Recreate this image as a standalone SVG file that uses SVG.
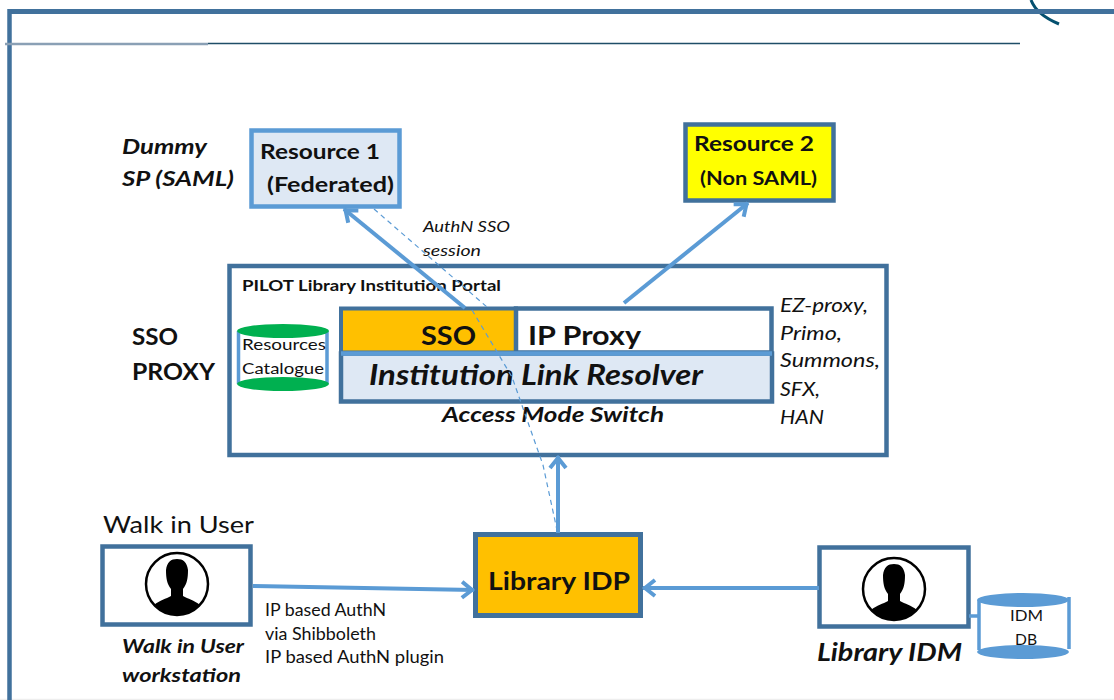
<svg xmlns="http://www.w3.org/2000/svg" width="1114" height="700" viewBox="0 0 1114 700">
<defs>
<marker id="ah" markerUnits="userSpaceOnUse" markerWidth="24" markerHeight="24" refX="15" refY="12" orient="auto"><path d="M3 4L13 12L3 20" fill="none" stroke="#5b9bd5" stroke-width="4"/></marker>
<g id="person"><circle r="31" fill="#fff" stroke="#000" stroke-width="2.500"/><path d="M-23 21C-17 16 -11 15 -6 12L-6 5C-10 0 -11 -6 -11 -14C-10 -22 -6 -25 0 -25C6 -25 10 -22 11 -14C11 -6 10 0 6 5L6 12C11 15 17 16 23 21C15 28 8 31 0 31C-8 31 -15 28 -23 21Z" fill="#000"/></g>
</defs>
<style>
text{font-family:Lato,"Open Sans",sans-serif;fill:#111}
.b{font-weight:700}
.i{font-style:italic}
.box{stroke:#41719c;stroke-width:4.500;fill:#fff}
.lb{stroke:#5b9bd5;fill:#dee8f4;stroke-width:4.500}
.con{stroke:#5b9bd5;stroke-width:4;fill:none}
.dash{stroke:#5b9bd5;stroke-width:1.200;fill:none;stroke-dasharray:5 4}
.side{stroke:#5b9bd5;stroke-width:3.500;fill:none}
</style>
<rect width="1114" height="700" fill="#fff"/>
<g id="frame">
<path d="M0 699.500H1114" stroke="#eeeeee" stroke-width="1.500" fill="none"/>
<path d="M1031 0C1034 8 1042 17 1059 24" stroke="#04506f" stroke-width="3" fill="none"/>
<path d="M1114 11.500H8" fill="none" stroke="#41719c" stroke-width="5"/>
<path d="M9.500 9V700" fill="none" stroke="#41719c" stroke-width="4.500"/>
<path d="M5 44H208" stroke="#8aa0b5" stroke-width="2.500" fill="none"/>
<path d="M208 43.500H1020" stroke="#1f4e67" stroke-width="1.500" fill="none"/>
</g>
<g id="resource1"><rect x="251.500" y="130.500" width="148" height="76" class="lb"/><text x="260" y="159" font-size="21" class="b" textLength="120" lengthAdjust="spacingAndGlyphs">Resource 1</text><text x="267" y="192" font-size="21" class="b" textLength="127" lengthAdjust="spacingAndGlyphs">(Federated)</text></g>
<g id="resource2"><rect x="685.500" y="124.500" width="148" height="76" fill="#ffff00" stroke="#41719c" stroke-width="4.500"/><text x="694" y="151" font-size="21" class="b" textLength="120" lengthAdjust="spacingAndGlyphs">Resource 2</text><text x="700" y="185" font-size="18.500" class="b" textLength="117" lengthAdjust="spacingAndGlyphs">(Non SAML)</text></g>
<g id="portal"><rect x="229.500" y="266" width="657" height="189" class="box"/><text x="242" y="291" font-size="16" class="b" textLength="259" lengthAdjust="spacingAndGlyphs">PILOT Library Institution Portal</text></g>
<g id="sso"><rect x="341" y="308.500" width="175" height="44" fill="#ffc000" stroke="#41719c" stroke-width="4"/><text x="421" y="345" font-size="26" class="b" textLength="55" lengthAdjust="spacingAndGlyphs">SSO</text></g>
<g id="ipproxy"><rect x="516" y="308.500" width="255.500" height="44" fill="#fff" stroke="#41719c" stroke-width="4.500"/><text x="528" y="345" font-size="26" class="b" textLength="113" lengthAdjust="spacingAndGlyphs">IP Proxy</text></g>
<g id="resolver"><rect x="341" y="353.500" width="431" height="48" fill="#dee8f4" stroke="#41719c" stroke-width="4.500"/><path d="M341 353.500H772" stroke="#5b9bd5" stroke-width="4.500" fill="none"/><text x="369" y="385" font-size="29" class="b i" textLength="334" lengthAdjust="spacingAndGlyphs">Institution Link Resolver</text></g>
<text x="442" y="422" font-size="21" class="b i" textLength="222" lengthAdjust="spacingAndGlyphs">Access Mode Switch</text>
<g id="catalogue"><path class="side" d="M238.500 331V384M327 331V384"/><ellipse cx="283" cy="331" rx="46" ry="7" fill="#00b050"/><ellipse cx="283" cy="384" rx="46" ry="7" fill="#00b050"/><text x="242" y="350" font-size="16" textLength="84" lengthAdjust="spacingAndGlyphs">Resources</text><text x="242" y="374" font-size="16" textLength="82" lengthAdjust="spacingAndGlyphs">Catalogue</text></g>
<g id="idp"><rect x="475.500" y="534.500" width="165" height="81" fill="#ffc000" stroke="#41719c" stroke-width="5"/><text x="488" y="590" font-size="24" class="b" textLength="142" lengthAdjust="spacingAndGlyphs">Library IDP</text></g>
<g id="walkin"><rect x="102.500" y="546.500" width="148" height="78" class="box"/><use href="#person" x="177" y="584"/></g>
<g id="libidm"><rect x="819.500" y="547.500" width="149" height="79" class="box"/><use href="#person" x="894" y="589"/></g>
<g id="idmdb"><path class="side" d="M979 600V650M1069 597V649M969 616H979"/><ellipse cx="1023" cy="600" rx="46" ry="7" fill="#5b9bd5"/><ellipse cx="1023" cy="652" rx="46" ry="7" fill="#5b9bd5"/><text x="1010" y="621" font-size="16" textLength="33" lengthAdjust="spacingAndGlyphs">IDM</text><text x="1015" y="645" font-size="16" textLength="22" lengthAdjust="spacingAndGlyphs">DB</text></g>
<g id="connectors">
<path class="con" d="M465 308L344 209" marker-end="url(#ah)"/>
<path class="con" d="M624 303L748 203" marker-end="url(#ah)"/>
<path class="con" d="M558 533V456" marker-end="url(#ah)"/>
<path class="con" d="M253 586L474 590" marker-end="url(#ah)"/>
<path class="con" d="M819 588H643" marker-end="url(#ah)"/>
<path class="dash" d="M374 209L487 307M472 310L512 377L543 465L557 530"/>
</g>
<text x="122" y="154" font-size="21" class="b i" textLength="85" lengthAdjust="spacingAndGlyphs">Dummy</text>
<text x="122" y="186" font-size="21" class="b i" textLength="112" lengthAdjust="spacingAndGlyphs">SP (SAML)</text>
<text x="423" y="232" font-size="16" class="i" textLength="87" lengthAdjust="spacingAndGlyphs">AuthN SSO</text>
<text x="423" y="256" font-size="16" class="i" textLength="58" lengthAdjust="spacingAndGlyphs">session</text>
<text x="132" y="345" font-size="23" class="b" textLength="46" lengthAdjust="spacingAndGlyphs">SSO</text>
<text x="132" y="380" font-size="23" class="b" textLength="83" lengthAdjust="spacingAndGlyphs">PROXY</text>
<g class="i" font-size="18.500"><text x="780" y="312" textLength="88" lengthAdjust="spacingAndGlyphs">EZ-proxy,</text><text x="780" y="340" textLength="62" lengthAdjust="spacingAndGlyphs">Primo,</text><text x="780" y="367" textLength="100" lengthAdjust="spacingAndGlyphs">Summons,</text><text x="780" y="396" textLength="40" lengthAdjust="spacingAndGlyphs">SFX,</text><text x="780" y="424" textLength="44" lengthAdjust="spacingAndGlyphs">HAN</text></g>
<text x="103" y="533" font-size="23" textLength="151" lengthAdjust="spacingAndGlyphs">Walk in User</text>
<text x="122" y="653" font-size="18.500" class="b i" textLength="122" lengthAdjust="spacingAndGlyphs">Walk in User</text>
<text x="122" y="682" font-size="18.500" class="b i" textLength="119" lengthAdjust="spacingAndGlyphs">workstation</text>
<g font-size="16.500"><text x="265" y="616" textLength="121" lengthAdjust="spacingAndGlyphs">IP based AuthN</text><text x="265" y="640" textLength="111" lengthAdjust="spacingAndGlyphs">via Shibboleth</text><text x="265" y="663" textLength="179" lengthAdjust="spacingAndGlyphs">IP based AuthN plugin</text></g>
<text x="817" y="661" font-size="25" class="b i" textLength="145" lengthAdjust="spacingAndGlyphs">Library IDM</text>
</svg>
